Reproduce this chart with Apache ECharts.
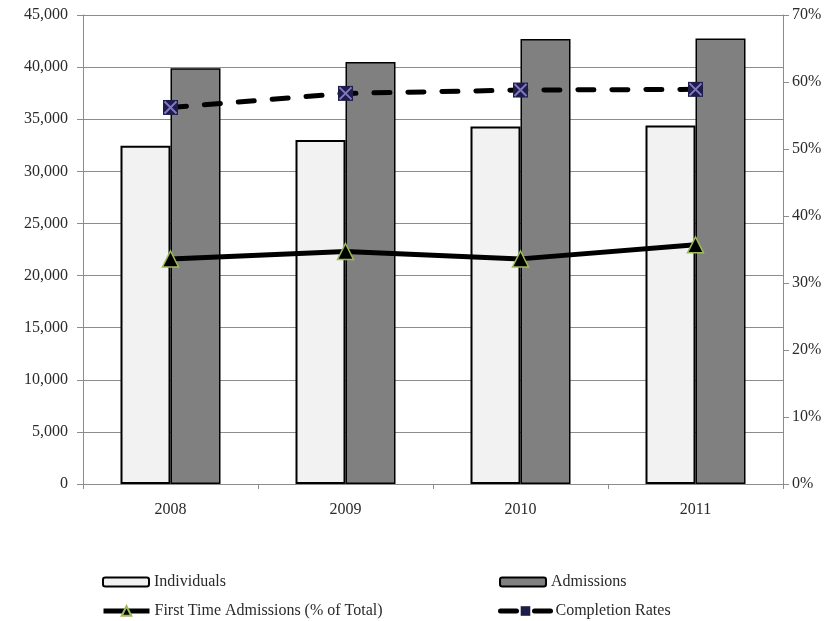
<!DOCTYPE html>
<html>
<head>
<meta charset="utf-8">
<script src="https://cdn.jsdelivr.net/npm/echarts@6/dist/echarts.min.js"></script>
<style>
  html, body { margin: 0; padding: 0; background: #ffffff; }
  #chart { width: 838px; height: 621px; }
</style>
</head>
<body>
<div id="chart"></div>
<script>
// Yearly figures
const years = ['2008', '2009', '2010', '2011'];
const individuals = [32450, 33000, 34300, 34400];
const admissions = [39900, 40500, 42700, 42750];
// Shares plotted on the right-hand axis (fractions)
const firstTimeShare = [0.336, 0.347, 0.336, 0.357];
const completionRate = [0.562, 0.583, 0.588, 0.589];

const countTicks = { min: 0, max: 45000, interval: 5000 };
const shareTicks = { min: 0, max: 0.7, interval: 0.1 };

const FONT = '"Liberation Serif", "Times New Roman", serif';
const GRID_GRAY = '#8c8c8c';
const TEXT = '#2a2a2a';

const chart = echarts.init(document.getElementById('chart'), null, { renderer: 'canvas' });

const legendText = { fontFamily: FONT, fontSize: 16, color: TEXT };

chart.setOption({
  animation: false,
  backgroundColor: '#ffffff',
  grid: { left: 83, right: 55, top: 15, bottom: 137, containLabel: false },
  legend: [
    { data: ['Individuals'], left: 97, top: 569, itemWidth: 46, itemHeight: 9, textStyle: legendText, itemGap: 0 },
    { data: ['Admissions'], left: 494, top: 569, itemWidth: 46, itemHeight: 9, textStyle: legendText, itemGap: 0 },
    {
      data: ['First Time Admissions (% of Total)'], left: 96, top: 598, itemWidth: 46, itemHeight: 12,
      textStyle: legendText, itemGap: 0, lineStyle: { width: 5 }
    },
    {
      data: ['Completion Rates'], left: 493, top: 598, itemWidth: 50, itemHeight: 12,
      textStyle: legendText, itemGap: 0, lineStyle: { width: 5 }
    }
  ],
  xAxis: {
    type: 'category',
    data: years,
    boundaryGap: true,
    axisLine: { show: true, lineStyle: { color: GRID_GRAY, width: 1 } },
    axisTick: { show: true, alignWithLabel: false, length: 5, lineStyle: { color: GRID_GRAY } },
    axisLabel: { fontFamily: FONT, fontSize: 16, color: TEXT, margin: 18 },
    splitLine: { show: false }
  },
  yAxis: [
    {
      type: 'value',
      min: countTicks.min, max: countTicks.max, interval: countTicks.interval,
      position: 'left',
      axisLine: { show: true, lineStyle: { color: GRID_GRAY, width: 1 } },
      axisTick: { show: true, length: 6, lineStyle: { color: GRID_GRAY } },
      axisLabel: {
        fontFamily: FONT, fontSize: 16, color: TEXT, margin: 15,
        formatter: v => v.toLocaleString('en-US')
      },
      splitLine: { show: true, lineStyle: { color: GRID_GRAY, width: 1 } }
    },
    {
      type: 'value',
      min: shareTicks.min, max: shareTicks.max, interval: shareTicks.interval,
      position: 'right',
      axisLine: { show: true, lineStyle: { color: GRID_GRAY, width: 1 } },
      axisTick: { show: true, length: 6, lineStyle: { color: GRID_GRAY } },
      axisLabel: {
        fontFamily: FONT, fontSize: 16, color: TEXT, margin: 9,
        formatter: v => Math.round(v * 100) + '%'
      },
      splitLine: { show: false }
    }
  ],
  series: [
    {
      name: 'Individuals',
      type: 'bar',
      data: individuals,
      barWidth: 50,
      barGap: '0%',
      itemStyle: { color: '#f2f2f2', borderColor: '#000000', borderWidth: 2 },
      z: 2
    },
    {
      name: 'Admissions',
      type: 'bar',
      data: admissions,
      barWidth: 50,
      barGap: '0%',
      itemStyle: { color: '#808080', borderColor: '#000000', borderWidth: 1.5 },
      z: 2
    },
    {
      name: 'First Time Admissions (% of Total)',
      type: 'line',
      yAxisIndex: 1,
      data: firstTimeShare,
      symbol: 'triangle',
      symbolSize: 16,
      lineStyle: { color: '#000000', width: 5 },
      itemStyle: { color: '#000000', borderColor: '#9bbb59', borderWidth: 1.5 },
      z: 5
    },
    {
      name: 'Completion Rates',
      type: 'line',
      yAxisIndex: 1,
      data: completionRate,
      symbol: 'rect',
      symbolSize: 15,
      lineStyle: { color: '#000000', width: 5, type: [16, 18], cap: 'round' },
      itemStyle: { color: '#1d1d4a', borderColor: '#1d1d4a', borderWidth: 0 },
      z: 5
    },
    {
      // purple cross drawn on top of the completion-rate squares
      name: 'Completion Rates marks',
      type: 'scatter',
      yAxisIndex: 1,
      data: completionRate,
      symbol: 'path://M0,0 L10,10 M10,0 L0,10',
      symbolSize: 12,
      itemStyle: { color: 'none', borderColor: '#9d8ee0', borderWidth: 2 },
      z: 6,
      silent: true
    }
  ]
});
</script>
</body>
</html>
